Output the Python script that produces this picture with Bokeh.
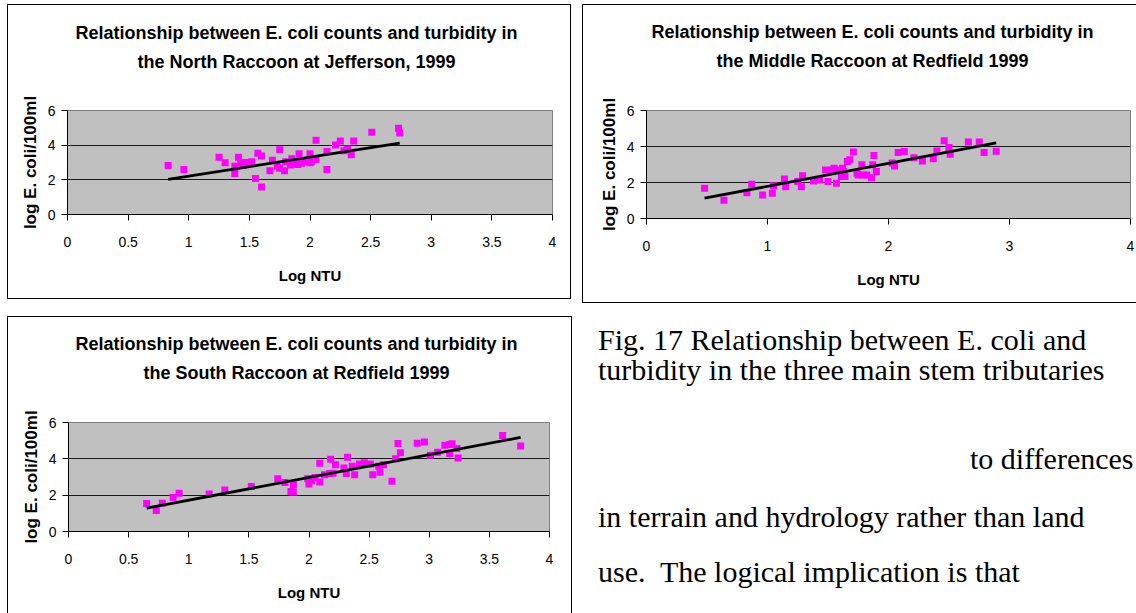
from bokeh.plotting import figure
from bokeh.models import Range1d, FixedTicker, Div, Spacer, Title
from bokeh.layouts import row, column
from bokeh.embed import file_html
from bokeh.resources import INLINE

# ---------------- data ----------------
north_x = [0.83, 0.96, 1.25, 1.30, 1.38, 1.38, 1.41, 1.43, 1.45, 1.49,
           1.52, 1.55, 1.57, 1.60, 1.60, 1.67, 1.69, 1.73, 1.75, 1.75,
           1.79, 1.80, 1.84, 1.85, 1.88, 1.91, 1.93, 1.97, 2.00, 2.01,
           2.05, 2.05, 2.14, 2.14, 2.21, 2.25, 2.28, 2.31, 2.34, 2.36,
           2.51, 2.73, 2.74, 1.90, 2.00, 1.47]
north_y = [2.82, 2.60, 3.31, 2.98, 2.78, 2.36, 3.31, 2.95, 2.82, 2.98,
           3.04, 2.08, 3.54, 3.37, 1.58, 2.52, 3.13, 2.80, 3.74, 2.67,
           2.52, 3.04, 2.85, 3.22, 2.91, 3.50, 2.95, 3.04, 3.50, 3.04,
           3.17, 4.29, 3.63, 2.60, 4.01, 4.24, 3.68, 3.78, 3.44, 4.24,
           4.75, 4.97, 4.70, 2.89, 2.98, 3.00]
north_fit = [1.097, 1.117]   # slope, intercept

middle_x = [0.48, 0.64, 0.83, 0.87, 0.96, 1.04, 1.05, 1.14, 1.15, 1.25,
            1.29, 1.28, 1.38, 1.43, 1.48, 1.50, 1.53, 1.57, 1.59, 1.61,
            1.63, 1.66, 1.68, 1.71, 1.74, 1.78, 1.79, 1.82, 1.86, 1.87,
            1.88, 1.90, 2.03, 2.05, 2.08, 2.13, 2.21, 2.28, 2.37, 2.40,
            2.46, 2.50, 2.51, 2.66, 2.75, 2.79, 2.89, 1.55, 1.62, 1.64,
            1.75]
middle_y = [1.68, 1.01, 1.43, 1.90, 1.30, 1.40, 1.82, 2.20, 1.77, 2.05,
            2.38, 1.77, 2.09, 2.14, 2.70, 2.05, 2.70, 1.96, 2.70, 2.33,
            2.61, 3.17, 3.26, 3.69, 2.51, 2.98, 2.42, 2.42, 2.27, 2.98,
            3.50, 2.61, 3.09, 2.91, 3.66, 3.72, 3.38, 3.19, 3.32, 3.75,
            4.32, 3.94, 3.57, 4.25, 4.25, 3.66, 3.74, 2.79, 2.79, 2.33,
            2.42]
middle_fit = [1.274, 0.515]

south_x = [0.65, 0.73, 0.78, 0.87, 0.92, 1.17, 1.30, 1.52, 1.74, 1.80,
           1.87, 1.85, 1.87, 1.99, 2.00, 2.05, 2.09, 2.09, 2.13, 2.17,
           2.18, 2.22, 2.29, 2.31, 2.32, 2.36, 2.38, 2.42, 2.46, 2.51,
           2.53, 2.58, 2.59, 2.62, 2.69, 2.72, 2.74, 2.76, 2.90, 2.96,
           3.01, 3.07, 3.13, 3.17, 3.19, 3.17, 3.23, 3.24, 3.61, 3.76,
           2.02, 2.20]
south_y = [1.54, 1.16, 1.56, 1.87, 2.11, 2.06, 2.29, 2.48, 2.90, 2.70,
           2.57, 2.20, 2.17, 2.90, 2.61, 2.97, 3.76, 2.72, 3.12, 3.19,
           3.98, 3.67, 3.50, 3.19, 4.09, 3.59, 3.13, 3.72, 3.78, 3.72,
           3.13, 3.59, 3.26, 3.68, 2.76, 4.01, 4.84, 4.33, 4.86, 4.92,
           4.20, 4.36, 4.75, 4.79, 4.83, 4.29, 4.57, 4.05, 5.29, 4.71,
           2.80, 3.20]
south_fit = [1.253, 0.467]

ticks_half = [0, 0.5, 1, 1.5, 2, 2.5, 3, 3.5, 4]
labels_half = ["0", "0.5", "1", "1.5", "2", "2.5", "3", "3.5", "4"]
ticks_whole = [0, 1, 2, 3, 4]
labels_whole = ["0", "1", "2", "3", "4"]
y_ticks = [0, 2, 4, 6]

title_line1 = "Relationship between E. coli counts and turbidity in"
title_line2 = [
    "the North Raccoon at Jefferson, 1999",
    "the Middle Raccoon at Redfield 1999",
    "the South Raccoon at Redfield 1999",
]
x_label = "Log NTU"
y_label = "log E. coli/100ml"

FONT = "Liberation Sans"


def title_obj(text, offset, standoff):
    return Title(text=text, align="left", offset=offset, standoff=standoff,
                 text_font=FONT, text_font_size="18px", text_font_style="bold",
                 text_color="black")


def make_chart(line2, xs, ys, fit, xticks, xlabels, w, h, bl, br, bt, bb,
               off1, off2, gap, styles):
    p = figure(width=w, height=h, x_range=Range1d(0, 4), y_range=Range1d(0, 6),
               output_backend="svg", toolbar_location=None,
               min_border_left=bl, min_border_right=br,
               min_border_top=bt, min_border_bottom=bb,
               background_fill_color="#C0C0C0", border_fill_color="white",
               outline_line_color="#808080", outline_line_width=1,
               styles=styles)
    # outermost title line
    p.title = title_obj(title_line1, off1, 7)
    # blank spacer closest to the plot frame
    p.add_layout(title_obj(" ", 0, gap), "above")
    # second title line, between the spacer and the first line
    p.add_layout(title_obj(line2, off2, 7), "above")

    p.xgrid.visible = False
    p.ygrid.ticker = FixedTicker(ticks=[2, 4])
    p.ygrid.grid_line_color = "#1a1a1a"
    p.ygrid.grid_line_width = 1

    p.xaxis.ticker = FixedTicker(ticks=xticks)
    p.xaxis.major_label_overrides = {float(t): l for t, l in zip(xticks, xlabels)}
    p.yaxis.ticker = FixedTicker(ticks=y_ticks)
    p.xaxis.axis_label = x_label
    p.yaxis.axis_label = y_label

    for ax in (p.xaxis[0], p.yaxis[0]):
        ax.axis_line_color = "black"
        ax.axis_line_width = 1
        ax.major_tick_line_color = "black"
        ax.major_tick_out = 6
        ax.major_tick_in = 0
        ax.minor_tick_line_color = None
        ax.major_label_text_font = FONT
        ax.major_label_text_font_size = "14px"
        ax.major_label_text_color = "black"
        ax.axis_label_text_font = FONT
        ax.axis_label_text_font_style = "bold"
        ax.axis_label_text_color = "black"
    p.xaxis.major_label_standoff = 16
    p.xaxis.axis_label_text_font_size = "15px"
    p.xaxis.axis_label_standoff = 17
    p.yaxis.major_label_standoff = 6
    p.yaxis.axis_label_text_font_size = "17px"
    p.yaxis.axis_label_standoff = 5

    p.scatter(xs, ys, marker="square", size=7, fill_color="#FF00FF",
              line_color=None)
    x0, x1 = min(xs), max(xs)
    p.line([x0, x1], [fit[0] * x0 + fit[1], fit[0] * x1 + fit[1]],
           line_color="black", line_width=2.8)
    return p


p1 = make_chart(title_line2[0], north_x, north_y, north_fit, ticks_half, labels_half,
                564, 295, 59, 20, 104, 82, 8, 70, 13,
                {"border": "1px solid #000", "box-sizing": "border-box"})
p2 = make_chart(title_line2[1], middle_x, middle_y, middle_fit, ticks_whole, labels_whole,
                554, 299, 63, 7, 105, 86, 5, 70, 14,
                {"border": "1px solid #000", "border-right": "none",
                 "box-sizing": "border-box"})
p3 = make_chart(title_line2[2], south_x, south_y, south_fit, ticks_half, labels_half,
                565, 297, 60, 24, 105, 83, 7, 75, 14,
                {"border": "1px solid #000", "border-bottom": "none",
                 "box-sizing": "border-box"})

text_lines = [
    ("Fig. 17 Relationship between E. coli and", 21, 4),
    ("turbidity in the three main stem tributaries", 21, 34),
    ("to differences", 393, 123),
    ("in terrain and hydrology rather than land", 21, 181),
    ("use.&nbsp; The logical implication is that", 21, 236),
]
html = '<div style="position:relative;width:560px;height:297px;overflow:visible;">'
for t, lx, ty in text_lines:
    html += ('<div style="position:absolute;left:%dpx;top:%dpx;'
             'font-family:\'Liberation Serif\';font-size:30px;line-height:30px;'
             'white-space:nowrap;color:#000;">%s</div>' % (lx, ty, t))
html += '</div>'
div = Div(text=html, width=560, height=297)

layout = column(
    Spacer(height=4),
    row(Spacer(width=7), p1, Spacer(width=11), p2),
    Spacer(height=13),
    row(Spacer(width=7), p3, div),
)

open("out.html", "w").write(file_html(layout, INLINE))
